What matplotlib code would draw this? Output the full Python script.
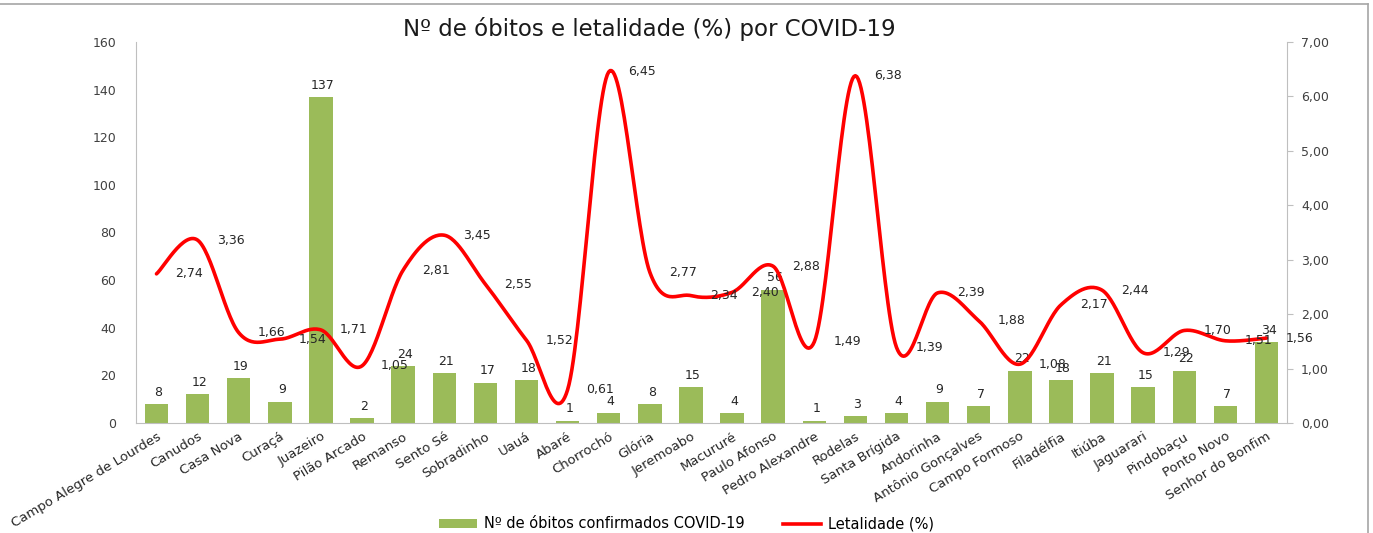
import numpy as np
import matplotlib
matplotlib.use("Agg")
import matplotlib.pyplot as plt
from matplotlib.ticker import FuncFormatter
from matplotlib.lines import Line2D
from matplotlib.patches import Patch

municipios = ["Campo Alegre de Lourdes", "Canudos", "Casa Nova", "Curaçá", "Juazeiro",
              "Pilão Arcado", "Remanso", "Sento Sé", "Sobradinho", "Uauá", "Abaré",
              "Chorrochó", "Glória", "Jeremoabo", "Macururé", "Paulo Afonso",
              "Pedro Alexandre", "Rodelas", "Santa Brígida", "Andorinha",
              "Antônio Gonçalves", "Campo Formoso", "Filadélfia", "Itiúba",
              "Jaguarari", "Pindobaçu", "Ponto Novo", "Senhor do Bonfim"]
obitos = [8, 12, 19, 9, 137, 2, 24, 21, 17, 18, 1, 4, 8, 15, 4, 56, 1, 3, 4, 9, 7,
          22, 18, 21, 15, 22, 7, 34]
letalidade = [2.74, 3.36, 1.66, 1.54, 1.71, 1.05, 2.81, 3.45, 2.55, 1.52, 0.61, 6.45,
              2.77, 2.34, 2.40, 2.88, 1.49, 6.38, 1.39, 2.39, 1.88, 1.08, 2.17, 2.44,
              1.29, 1.70, 1.51, 1.56]

title = "Nº de óbitos e letalidade (%) por COVID-19"
bar_label = "Nº de óbitos confirmados COVID-19"
line_label = "Letalidade (%)"

GREEN = "#9BBB59"
RED = "#FF0000"
GRAY = "#BFBFBF"

plt.rcParams['font.family'] = ['DejaVu Sans']

fig = plt.figure(figsize=(13.73, 5.33), dpi=100)
ax = fig.add_axes([0.099, 0.2064, 0.8384, 0.7148])
ax2 = ax.twinx()

x = np.arange(len(municipios))
ax.bar(x, obitos, width=0.57, color=GREEN, zorder=2)
for xi, v in zip(x, obitos):
    ax.text(xi + 0.05, v + 2.2, str(v), ha="center", va="bottom", fontsize=9, color="#262626")

ax.set_xlim(-0.5, len(municipios) - 0.5)
ax.set_ylim(0, 160)
ax.set_yticks(np.arange(0, 161, 20))
ax.set_xticks(x)
ax.set_xticklabels(municipios, rotation=31, ha="right", rotation_mode="anchor",
                   fontsize=9.5, color="#262626")
ax.tick_params(axis="x", length=0, pad=5)
ax.tick_params(axis="y", length=0, labelsize=9, colors="#404040", pad=14)

# Smoothed line (Bezier through the points, like Excel's smoothed line)
def smooth(xs, ys, n=30):
    xs = np.asarray(xs, float); ys = np.asarray(ys, float)
    px, py = [], []
    for i in range(len(xs) - 1):
        p0 = (xs[i - 1] if i > 0 else xs[i], ys[i - 1] if i > 0 else ys[i])
        p1 = (xs[i], ys[i]); p2 = (xs[i + 1], ys[i + 1])
        p3 = (xs[i + 2], ys[i + 2]) if i + 2 < len(xs) else p2
        c1 = (p1[0] + (p2[0] - p0[0]) / 6, p1[1] + (p2[1] - p0[1]) / 6)
        c2 = (p2[0] - (p3[0] - p1[0]) / 6, p2[1] - (p3[1] - p1[1]) / 6)
        t = np.linspace(0, 1, n)
        bx = (1 - t) ** 3 * p1[0] + 3 * (1 - t) ** 2 * t * c1[0] + 3 * (1 - t) * t ** 2 * c2[0] + t ** 3 * p2[0]
        by = (1 - t) ** 3 * p1[1] + 3 * (1 - t) ** 2 * t * c1[1] + 3 * (1 - t) * t ** 2 * c2[1] + t ** 3 * p2[1]
        px.extend(bx); py.extend(by)
    return np.array(px), np.array(py)

sx, sy = smooth(x, letalidade)
ax2.plot(sx, sy, color=RED, lw=2.6, zorder=3, solid_capstyle="round")
for xi, v in zip(x, letalidade):
    ax2.text(xi + 0.8, v, f"{v:.2f}".replace(".", ","), ha="center", va="center",
             fontsize=9, color="#262626")
ax2.set_ylim(0, 7)
ax2.set_yticks(np.arange(0, 7.01, 1))
ax2.yaxis.set_major_formatter(FuncFormatter(lambda v, p: f"{v:.2f}".replace(".", ",")))
ax2.tick_params(axis="y", length=4, color=GRAY, labelsize=9, labelcolor="#404040", pad=6)

for a in (ax, ax2):
    a.spines["top"].set_visible(False)
    for s in ("left", "right", "bottom"):
        a.spines[s].set_color(GRAY)
ax.spines["right"].set_visible(False)
ax2.spines["left"].set_visible(False)
ax2.spines["bottom"].set_visible(False)

fig.text(0.473, 0.945, title, ha="center", va="center", fontsize=16.5, color="#1a1a1a")

handles = [Patch(facecolor=GREEN, edgecolor="none"), Line2D([0], [0], color=RED, lw=2.6)]
fig.legend(handles, [bar_label, line_label], loc="center", bbox_to_anchor=(0.5, 0.017),
           ncol=2, frameon=False, fontsize=10.5, handlelength=2.6, columnspacing=2.6,
           handleheight=0.6, handletextpad=0.5)

# outer frame lines (top and right) like the screenshot
fig.add_artist(Line2D([0, 0.996], [0.992, 0.992], color="#A6A6A6", lw=1.2, transform=fig.transFigure))
fig.add_artist(Line2D([0.996, 0.996], [0, 0.992], color="#A6A6A6", lw=1.2, transform=fig.transFigure))

fig.savefig("out.png", dpi=100)
